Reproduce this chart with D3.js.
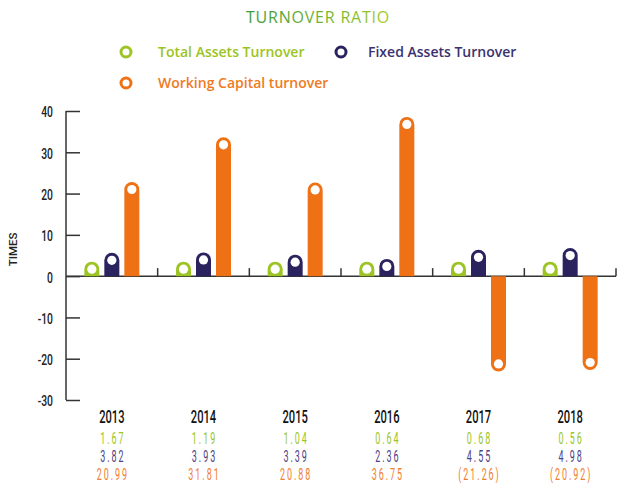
<!DOCTYPE html>
<html>
<head>
<meta charset="utf-8">
<script src="https://cdn.jsdelivr.net/npm/d3@7"></script>
<style>
  body { margin: 0; background: #fff; }
  .num { font-family: Roboto, "DejaVu Sans", sans-serif; }
  .lab { font-family: "Open Sans", sans-serif; }
</style>
</head>
<body>
<svg width="618" height="483"></svg>
<script>
// chart data
const years = ["2013", "2014", "2015", "2016", "2017", "2018"];
const series = ["Total Assets Turnover", "Fixed Assets Turnover", "Working Capital turnover"];
const totalAssets = [1.67, 1.19, 1.04, 0.64, 0.68, 0.56];
const fixedAssets = [3.82, 3.93, 3.39, 2.36, 4.55, 4.98];
const workingCapital = [20.99, 31.81, 20.88, 36.75, -21.26, -20.92];
const yTicks = [40, 30, 20, 10, 0, -10, -20, -30];

const colors = ["#9cc424", "#2a235e", "#ee7116"];
const textColors = ["#9cc424", "#4b4384", "#f07e2e"];
const values = [totalAssets, fixedAssets, workingCapital];

const svg = d3.select("svg");

const x0 = d3.scaleBand().domain(years).range([66, 616]);
const bw = x0.bandwidth();
const x1 = d3.scaleBand().domain(series)
  .range([bw / 2 - 27.5, bw / 2 + 27.5])
  .paddingInner(0.25);
const y = d3.scaleLinear().domain([-30, 40]).range([400, 111]);

// title
const defs = svg.append("defs");
const grad = defs.append("linearGradient").attr("id", "tg");
grad.append("stop").attr("offset", "0%").attr("stop-color", "#3b9a3a");
grad.append("stop").attr("offset", "100%").attr("stop-color", "#a2cb2c");
svg.append("text")
  .attr("class", "lab")
  .attr("x", 318).attr("y", 23)
  .attr("text-anchor", "middle")
  .attr("font-size", 16)
  .attr("letter-spacing", 0.8)
  .attr("fill", "url(#tg)")
  .text("TURNOVER RATIO");

// legend
const legendPos = [[126, 52, 32], [341, 52, 27], [126, 83, 32]];
const legendText = ["#9cc424", "#3a3270", "#f07a22"];
series.forEach((s, i) => {
  const [lx, ly, off] = legendPos[i];
  svg.append("circle")
    .attr("cx", lx).attr("cy", ly).attr("r", 5)
    .attr("fill", "none")
    .attr("stroke", colors[i])
    .attr("stroke-width", 3);
  svg.append("text")
    .attr("class", "lab")
    .attr("x", lx + off).attr("y", ly + 5)
    .attr("font-size", 14)
    .attr("font-weight", 600)
    .attr("fill", legendText[i])
    .text(s);
});

// y axis
const axis = svg.append("g").attr("transform", "translate(66,0)");
axis.call(d3.axisRight(y).tickValues(yTicks).tickSize(14).tickFormat(""));
axis.select(".domain").attr("d", `M0,${y(40)}V${y(-30)}`).attr("stroke", "#333").attr("stroke-width", 1.5);
axis.selectAll(".tick line").attr("stroke", "#333").attr("stroke-width", 1.5);
axis.selectAll(".tick")
  .append("text")
  .attr("class", "num")
  .attr("transform", "translate(-13,1) scale(0.74,1)")
  .attr("dy", "0.35em")
  .attr("text-anchor", "end")
  .attr("fill", "#222")
  .attr("font-size", 14)
  .attr("font-weight", 500)
  .text(d => d);

svg.append("text")
  .attr("class", "num")
  .attr("transform", `translate(17,${y(6.5)}) rotate(-90)`)
  .attr("text-anchor", "middle")
  .attr("font-size", 11.5)
  .attr("font-weight", 500)
  .attr("fill", "#222")
  .text("TIMES");

// zero line with separators
svg.append("line")
  .attr("x1", 66).attr("x2", 616)
  .attr("y1", y(0)).attr("y2", y(0))
  .attr("stroke", "#333").attr("stroke-width", 1.5);
svg.selectAll(".sep")
  .data(years)
  .join("line")
  .attr("class", "sep")
  .attr("x1", d => x0(d) + bw).attr("x2", d => x0(d) + bw)
  .attr("y1", y(0) - 8).attr("y2", y(0))
  .attr("stroke", "#333").attr("stroke-width", 1.5);

// bars (small values keep at least a visible cap)
const r = x1.bandwidth() / 2;
function capY(v) {
  const yv = y(v);
  return v >= 0 ? Math.min(yv, y(0) - 7) : yv;
}
function barPath(v, x) {
  const w = x1.bandwidth();
  const y0 = y(0), yv = capY(v);
  const sweep = v >= 0 ? 1 : 0;
  return `M${x},${y0}L${x},${yv}A${r},${r} 0 0 ${sweep} ${x + w},${yv}L${x + w},${y0}Z`;
}

const bars = [];
years.forEach((yr, i) => {
  series.forEach((s, j) => {
    bars.push({ year: yr, series: s, j: j, v: values[j][i] });
  });
});

const g = svg.append("g");
g.selectAll(".bar")
  .data(bars)
  .join("path")
  .attr("class", "bar")
  .attr("fill", d => colors[d.j])
  .attr("d", d => barPath(d.v, x0(d.year) + x1(d.series)));
g.selectAll(".dot")
  .data(bars)
  .join("circle")
  .attr("class", "dot")
  .attr("cx", d => x0(d.year) + x1(d.series) + r)
  .attr("cy", d => capY(d.v))
  .attr("r", 4.6)
  .attr("fill", "#fff");

// year labels and values table
const fmt = v => v < 0 ? "(" + d3.format(".2f")(-v) + ")" : d3.format(".2f")(v);
svg.selectAll(".yr")
  .data(years)
  .join("text")
  .attr("class", "num")
  .attr("transform", d => `translate(${x0(d) + bw / 2},423) scale(0.62,1)`)
  .attr("text-anchor", "middle")
  .attr("font-size", 18)
  .attr("font-weight", 500)
  .attr("fill", "#111")
  .text(d => d);

values.forEach((arr, j) => {
  svg.selectAll(".row" + j)
    .data(arr)
    .join("text")
    .attr("class", "num row" + j)
    .attr("transform", (d, i) => `translate(${x0(years[i]) + bw / 2 + 1},${444 + j * 18}) scale(0.56,1)`)
    .attr("text-anchor", "middle")
    .attr("font-size", 16)
    .attr("letter-spacing", 3.5)
    .attr("fill", textColors[j])
    .text(d => fmt(d));
});
</script>
</body>
</html>
